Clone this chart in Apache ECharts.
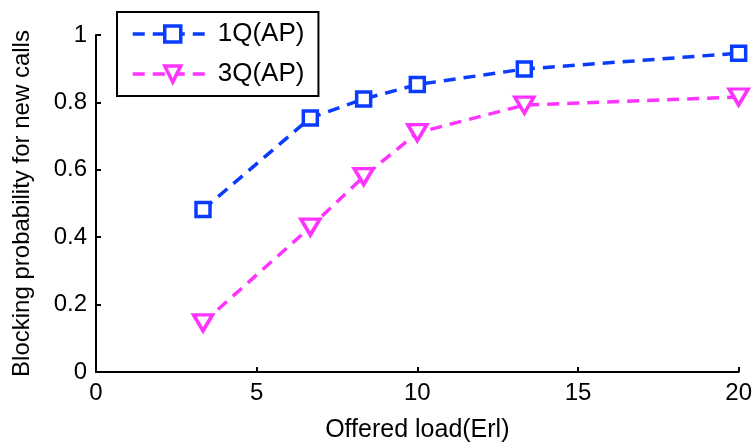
<!DOCTYPE html>
<html>
<head>
<meta charset="utf-8">
<script src="https://cdn.jsdelivr.net/npm/echarts@6/dist/echarts.min.js"></script>
<style>
  html, body { margin: 0; padding: 0; background: #fff; }
  #chart { width: 755px; height: 448px; }
</style>
</head>
<body>
<div id="chart"></div>
<script>
// offered load (Erl)
var loads = [3.33, 6.67, 8.33, 10, 13.33, 20];
var q1 = [0.482, 0.754, 0.81, 0.853, 0.899, 0.946];
var q3 = [0.146, 0.43, 0.58, 0.71, 0.792, 0.816];
var xTicks = [0, 5, 10, 15, 20];
var yTicks = [0, 0.2, 0.4, 0.6, 0.8, 1];

function pairs(xs, ys) {
  return xs.map(function (x, i) { return [x, ys[i]]; });
}

var font = "Liberation Sans, Arial, sans-serif";
var myChart = echarts.init(document.getElementById("chart"));
myChart.setOption({
  animation: false,
  grid: { left: 96, right: 15, top: 35, bottom: 73 },
  legend: {
    orient: "vertical",
    left: 117,
    top: 12,
    padding: [9, 14, 9, 14],
    itemGap: 14,
    itemWidth: 80,
    itemHeight: 20,
    borderColor: "#000",
    borderWidth: 2,
    itemStyle: { borderWidth: 3.5 },
    lineStyle: { width: 3.5 },
    textStyle: { fontFamily: font, fontSize: 26, color: "#000" },
    data: ["1Q(AP)", "3Q(AP)"]
  },
  xAxis: {
    type: "value",
    min: 0,
    max: 20,
    interval: 5,
    name: "Offered load(Erl)",
    nameLocation: "middle",
    nameGap: 46,
    nameTextStyle: { fontFamily: font, fontSize: 25, color: "#000" },
    axisLine: { lineStyle: { color: "#000", width: 2 } },
    axisTick: { inside: true, length: 5, lineStyle: { width: 2 } },
    axisLabel: {
      fontFamily: font, fontSize: 24, color: "#000", margin: 9,
      formatter: function (v) { return xTicks.indexOf(v) >= 0 ? String(v) : ""; }
    },
    splitLine: { show: false }
  },
  yAxis: {
    type: "value",
    min: 0,
    max: 1,
    interval: 0.2,
    name: "Blocking probability for new calls",
    nameLocation: "middle",
    nameGap: 62,
    nameTextStyle: { fontFamily: font, fontSize: 24, color: "#000" },
    axisLine: { show: true, lineStyle: { color: "#000", width: 2 } },
    axisTick: { show: true, inside: true, length: 5, lineStyle: { width: 2 } },
    axisLabel: {
      fontFamily: font, fontSize: 24, color: "#000", margin: 9,
      formatter: function (v) {
        var t = Math.round(v * 10) / 10;
        return yTicks.indexOf(t) >= 0 ? String(t) : "";
      }
    },
    splitLine: { show: false }
  },
  series: [
    {
      name: "1Q(AP)",
      type: "line",
      data: pairs(loads, q1),
      symbol: "rect",
      symbolSize: 14,
      color: "#0a3cff",
      lineStyle: { color: "#0a3cff", width: 3.5, type: [12, 8] },
      itemStyle: { color: "#fff", borderColor: "#0a3cff", borderWidth: 3.5 }
    },
    {
      name: "3Q(AP)",
      type: "line",
      data: pairs(loads, q3),
      symbol: "triangle",
      symbolRotate: 180,
      symbolSize: [19, 16],
      color: "#ff33ff",
      lineStyle: { color: "#ff33ff", width: 3.5, type: [12, 8] },
      itemStyle: { color: "#fff", borderColor: "#ff33ff", borderWidth: 3.5 }
    }
  ]
});
</script>
</body>
</html>
